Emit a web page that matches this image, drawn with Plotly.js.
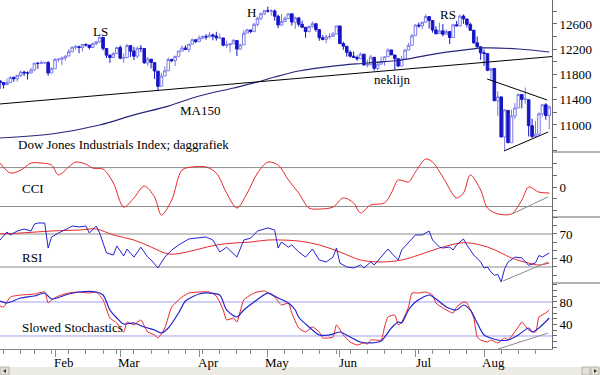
<!DOCTYPE html>
<html><head><meta charset="utf-8">
<script src="https://cdn.plot.ly/plotly-3.0.1.min.js"></script>
<style>html,body{margin:0;padding:0;background:#fff}#c{width:600px;height:375px}</style>
</head><body><div id="c"></div>
<script>
// ---- data ----
const days = [
'2011-01-07','2011-01-10','2011-01-11','2011-01-12','2011-01-13','2011-01-14','2011-01-18','2011-01-19','2011-01-20','2011-01-21','2011-01-24','2011-01-25','2011-01-26','2011-01-27','2011-01-28','2011-01-31',
'2011-02-01','2011-02-02','2011-02-03','2011-02-04','2011-02-07','2011-02-08','2011-02-09','2011-02-10','2011-02-11','2011-02-14','2011-02-15','2011-02-16','2011-02-17','2011-02-18','2011-02-22','2011-02-23','2011-02-24','2011-02-25','2011-02-28',
'2011-03-01','2011-03-02','2011-03-03','2011-03-04','2011-03-07','2011-03-08','2011-03-09','2011-03-10','2011-03-11','2011-03-14','2011-03-15','2011-03-16','2011-03-17','2011-03-18','2011-03-21','2011-03-22','2011-03-23','2011-03-24','2011-03-25','2011-03-28','2011-03-29','2011-03-30','2011-03-31',
'2011-04-01','2011-04-04','2011-04-05','2011-04-06','2011-04-07','2011-04-08','2011-04-11','2011-04-12','2011-04-13','2011-04-14','2011-04-15','2011-04-18','2011-04-19','2011-04-20','2011-04-21','2011-04-25','2011-04-26','2011-04-27','2011-04-28','2011-04-29',
'2011-05-02','2011-05-03','2011-05-04','2011-05-05','2011-05-06','2011-05-09','2011-05-10','2011-05-11','2011-05-12','2011-05-13','2011-05-16','2011-05-17','2011-05-18','2011-05-19','2011-05-20','2011-05-23','2011-05-24','2011-05-25','2011-05-26','2011-05-27','2011-05-31',
'2011-06-01','2011-06-02','2011-06-03','2011-06-06','2011-06-07','2011-06-08','2011-06-09','2011-06-10','2011-06-13','2011-06-14','2011-06-15','2011-06-16','2011-06-17','2011-06-20','2011-06-21','2011-06-22','2011-06-23','2011-06-24','2011-06-27','2011-06-28','2011-06-29','2011-06-30',
'2011-07-01','2011-07-05','2011-07-06','2011-07-07','2011-07-08','2011-07-11','2011-07-12','2011-07-13','2011-07-14','2011-07-15','2011-07-18','2011-07-19','2011-07-20','2011-07-21','2011-07-22','2011-07-25','2011-07-26','2011-07-27','2011-07-28','2011-07-29',
'2011-08-01','2011-08-02','2011-08-03','2011-08-04','2011-08-05','2011-08-08','2011-08-09','2011-08-10','2011-08-11','2011-08-12','2011-08-15','2011-08-16','2011-08-17','2011-08-18','2011-08-19','2011-08-22','2011-08-23','2011-08-24','2011-08-25','2011-08-26'];

const open = [
11697,11674,11638,11673,11754,11731,11784,11837,11824,11823,11873,11978,11976,11985,11989,11824,
11891,12040,12042,12062,12092,12162,12233,12238,12228,12273,12266,12227,12287,12318,12389,12211,12105,12069,12131,
12227,12057,12068,12258,12171,12090,12213,12212,11983,12043,11988,11853,11614,11776,11859,12036,12018,12087,12170,12220,12197,12279,12350,
12321,12376,12400,12395,12426,12409,12381,12379,12264,12270,12285,12339,12202,12268,12455,12505,12479,12594,12690,12763,
12808,12807,12807,12723,12582,12640,12686,12761,12630,12696,12594,12547,12479,12562,12604,12511,12382,12356,12394,12403,12442,
12569,12290,12247,12151,12090,12070,12048,12122,11951,11952,12072,11896,11962,12003,12080,12189,12109,12050,11935,12043,12188,12263,
12415,12582,12569,12627,12717,12655,12505,12448,12491,12437,12479,12386,12587,12570,12725,12680,12590,12501,12302,12239,
12144,12131,11866,11894,11383,11445,10810,11229,10719,11143,11269,11482,11405,11400,10989,10819,10856,11176,11320,11149];
const high = [
11712,11675,11738,11770,11767,11792,11861,11860,11850,11906,11981,11989,12020,12003,12012,11916,
12058,12057,12079,12095,12201,12244,12269,12259,12285,12295,12268,12303,12322,12391,12389,12221,12118,12155,12239,
12262,12134,12284,12259,12235,12242,12265,12212,12078,12043,11988,11853,11827,11927,12072,12051,12097,12177,12260,12264,12281,12370,12352,
12419,12420,12440,12469,12449,12476,12451,12379,12335,12288,12359,12339,12284,12505,12525,12505,12622,12716,12781,12819,
12876,12834,12830,12746,12757,12720,12771,12761,12718,12710,12652,12547,12572,12641,12604,12511,12423,12431,12459,12472,12570,
12569,12318,12247,12181,12165,12102,12147,12122,12036,12113,12072,12006,12082,12092,12214,12190,12109,12050,12093,12193,12300,12445,
12599,12623,12640,12753,12717,12655,12566,12620,12599,12518,12479,12604,12647,12751,12750,12680,12625,12501,12402,12239,
12194,12131,11905,11904,11536,11445,11244,11239,11244,11347,11500,11482,11593,11400,11099,11065,11201,11334,11347,11310];
const low = [
11572,11578,11638,11673,11684,11688,11758,11777,11720,11823,11857,11890,11962,11966,11781,11823,
11891,11995,11946,12016,12092,12152,12191,12136,12164,12243,12198,12227,12264,12300,12180,12061,11984,12069,12131,
12040,11983,12068,12079,12029,12056,12153,11969,11937,11897,11727,11555,11614,11776,11859,11995,11932,12087,12170,12197,12150,12279,12300,
12321,12356,12350,12395,12341,12338,12365,12247,12220,12147,12285,12093,12202,12268,12455,12454,12479,12560,12663,12744,
12780,12732,12652,12534,12582,12632,12686,12575,12523,12557,12537,12380,12476,12540,12477,12334,12340,12292,12364,12403,12442,
12281,12190,12083,12070,12070,12016,12048,11940,11912,11952,11862,11863,11962,11939,12080,12109,11874,11915,11930,12043,12188,12263,
12415,12540,12515,12627,12529,12463,12432,12448,12405,12437,12283,12386,12565,12567,12603,12546,12494,12284,12224,12033,
11937,11852,11700,11384,11140,10809,10604,10711,10719,11093,11269,11263,11336,10818,10794,10817,10821,11130,11083,10929];
const close = [
11675,11637,11672,11755,11732,11787,11838,11825,11823,11872,11981,11977,11985,11990,11824,11892,
12040,12042,12062,12092,12162,12233,12240,12229,12273,12268,12227,12288,12318,12391,12213,12106,12069,12130,12226,
12058,12067,12258,12170,12090,12214,12213,11985,12044,11993,11855,11613,11775,11859,12037,12019,12086,12171,12221,12198,12279,12351,12320,
12377,12400,12394,12427,12409,12380,12381,12264,12271,12285,12342,12202,12267,12454,12506,12480,12595,12691,12763,12811,
12807,12808,12724,12584,12639,12685,12760,12630,12696,12596,12548,12480,12560,12605,12512,12381,12356,12395,12403,12442,12570,
12290,12249,12151,12090,12071,12049,12124,11952,11953,12076,11897,11962,12004,12080,12190,12110,12050,11935,12044,12189,12261,12414,
12583,12570,12626,12719,12657,12506,12447,12492,12437,12480,12385,12587,12572,12724,12681,12593,12501,12303,12240,12143,
12132,11867,11896,11384,11445,10810,11240,10720,11143,11269,11483,11406,11410,10991,10818,10855,11177,11321,11150,11285];

// 150-day moving average (trading-day index)
const ma150Day = [0,15,29,39,49,58,68,75,80,87,97,107,117,126,136,141,151,160];
const ma150    = [10794,10857,11000,11160,11300,11459,11586,11681,11760,11855,11934,11982,12029,12120,12193,12220,12204,12156];
// neckline and triangle trend lines
const neckDay = [0,161];          const neck = [11333,12085];
const triUpDay = [141.9,159.4];   const triUp = [11729,11396];
const triLoDay = [146.8,159.7];   const triLo = [10588,10889];

// CCI
const cciDay = [0,3,6,9,12,15,17,20,22,25,27,30,33,36,39,42,45,47,50,53,56,60,63,66,69,72,75,78,81,84,87,90,93,97,100,103,105,108,112,114,116,119,121,124,126,129,133,135,137,140,142,145,149,152,154,157,160];
const cci = [123,72,87,123,123,113,62,103,128,118,97,92,21,-103,-56,5,-51,-144,-67,87,103,103,72,-31,-108,-31,72,128,113,36,-31,-108,-113,-103,-56,-82,-133,-92,-82,-31,36,26,77,144,128,51,-56,-31,62,-15,-108,-138,-138,-67,0,-26,-31];
const cciTrendDay = [149.2,159.6]; const cciTrend = [-138,-51];
const cciLevels = [100,-100];

// RSI and its average
const rsiDay = [0,2,3,5,7,9,10,11,13,14,15,17,20,21,23,25,26,28,29,31,33,34,36,37,39,41,43,44,46,48,50,52,55,57,60,62,64,66,69,71,73,75,78,80,81,82,84,85,87,89,91,93,95,97,98,99,101,103,105,106,108,109,111,113,114,116,117,119,121,123,125,126,128,129,131,132,133,135,136,138,140,141,142,143,144,145,146,147,148,150,152,154,156,157,158,160];
const rsi = [62.7,72.4,68.8,73.6,76,73.6,82,83.3,83.3,53,66.4,71.2,77.3,79.7,78.5,79.7,71.2,79.7,71.2,47,44.5,55.5,43.3,51.8,42,54,42,38.5,28.8,42,50.6,56.7,64,65,66.4,62.7,48.2,54,42,62.7,65,73.6,77.3,74.8,53,60.3,54,56.7,48.2,42,51.8,38.5,36.1,42,53,34.8,30,28.8,32.4,28.8,36.1,32.4,42,51.8,47,38.5,50.6,60.3,68.8,68.8,73.6,62.7,54.2,53,54.2,50.6,56.7,64,56.7,44.5,36.1,28.8,30,24,20,21,12,28,36,42,41,32,35,44,42,47];
const rsiMaDay = [0,6,15,23,28,33,39,44,49,53,58,63,68,73,78,82,87,93,99,105,111,117,122,128,134,137,142,146,149,154,157,160];
const rsiMa = [70,71.2,73.6,74.8,76,68.8,62.7,54.2,45.8,47,51.8,56.7,59,60.3,62.7,62.7,61.5,56.7,48.2,38.5,36.1,38.5,44.5,53,59,59,54.2,47,40.9,34.8,32.4,34.8];
const rsiTrendDay = [146.5,159.6]; const rsiTrend = [13,36];
const rsiLevels = [70,30];

// Slowed stochastics
const stochKDay = [0,1,3,6,10,13,14,15,17,20,23,26,28,30,32,34,36,37,39,41,43,45,46,48,50,53,55,58,61,63,65,66,68,69,71,74,77,80,82,84,85,87,89,91,93,94,97,98,100,102,104,106,107,108,111,112,113,115,116,117,119,120,122,124,126,127,129,132,133,135,136,138,139,140,142,143,145,147,148,151,152,154,156,157,159,160];
const stochK = [72.9,71,88.8,92.3,94,97.6,78.2,83.5,90.5,95.8,97.6,95.8,97.6,83.5,51.7,42.9,27,44.7,39.4,48.2,27,21.8,16.5,34.1,71.1,88.8,95.8,97.6,97.6,90.5,65.9,48.2,51.7,44.7,83.5,95.8,99.4,88.8,74.7,78.2,60.6,34.1,27,35.9,27,16.5,18.2,39.4,21.8,9.4,4.1,7.7,5.9,12.9,12.9,35.9,53.5,57,39.4,44.7,71.1,95.8,95.8,97.6,92.3,78.2,69.4,60.6,71.1,80,78.2,51.7,18.2,12.9,9.4,12.9,7.7,16.5,12.9,35.9,44.7,30.6,27,53.5,60.6,65.9];
const stochDDay = [0,2,6,10,13,15,20,23,28,30,32,34,36,39,42,45,47,49,52,54,58,61,64,66,69,71,74,78,81,84,86,87,90,93,96,99,102,105,108,111,114,116,117,119,121,125,127,130,133,135,137,139,141,145,148,151,154,155,157,160];
const stochD = [81.7,78.2,87,90.5,95.8,85.3,94.1,97.6,97.6,92.3,65.9,51.7,41.2,42.9,35.9,30.6,25.3,34.1,60.6,81.7,94.1,95.8,92.3,65.9,53.5,65.9,80,95.8,87,78.2,65.9,53,35.9,21.8,21.8,27,18.2,9.4,7.7,11.2,34.1,44.7,42.9,65.9,80,92.3,85.3,71.1,65.9,74.7,65.9,42.9,21.8,12.9,12.9,21.8,34.1,27,34.1,51.7];
const stochTrendDay = [145.1,159.6]; const stochTrend = [-3,25];
const stochLevels = [80,20];

// axis labels
const monthNames = ['Feb','Mar','Apr','May','Jun','Jul','Aug'];
const priceTicks = [10600,10800,11000,11200,11400,11600,11800,12000,12200,12400,12600,12800];
const priceLabeled = [11000,11400,11800,12200,12600];
const cciTicks = [-120,-60,0,60,120];       const cciLabeled = [0];
const rsiTicks = [20,30,40,50,60,70,80,90]; const rsiLabeled = [40,70];
const stochTicks = [0,10,20,30,40,50,60,70,80,90,100,110]; const stochLabeled = [40,80];

// ---- build ----
const dayIdx = days.map((d,i)=>i);
const monthTicks = [], weekTicks = [];
days.forEach((d,i)=>{
  if(i===0) return;
  const a = new Date(d+'T00:00:00Z'), b = new Date(days[i-1]+'T00:00:00Z');
  if(a.getUTCMonth()!==b.getUTCMonth()) monthTicks.push(i);
  if(a.getUTCDay() < b.getUTCDay()) weekTicks.push(i);
});

const W=600, H=375, PW=552, PH=349;
const px = p => p/PW, py = p => (PH-p)/PH;
const serif = 'Liberation Serif, Times New Roman, serif';
const tfont = {family:serif, size:13, color:'#000'};
const RED='#e8262a', BLUE='#2323cf', GREY='#8a8a8a';

const traces = [
 {type:'candlestick', x:dayIdx, open, high, low, close, xaxis:'x', yaxis:'y',
  increasing:{line:{color:'#7a7aea', width:1}, fillcolor:'#ffffff'},
  decreasing:{line:{color:'#1616c6', width:1}, fillcolor:'#1616c6'},
  whiskerwidth:0, hoverinfo:'skip'},
 {type:'scatter', mode:'lines', x:ma150Day, y:ma150, yaxis:'y', line:{color:'#27277f', width:1.2, shape:'spline'}},
 {type:'scatter', mode:'lines', x:neckDay, y:neck, yaxis:'y', line:{color:'#000', width:1}},
 {type:'scatter', mode:'lines', x:triUpDay, y:triUp, yaxis:'y', line:{color:'#000', width:1}},
 {type:'scatter', mode:'lines', x:triLoDay, y:triLo, yaxis:'y', line:{color:'#000', width:1}},
 {type:'scatter', mode:'lines', x:cciDay, y:cci, yaxis:'y2', line:{color:RED, width:1, shape:'spline', smoothing:0.9}},
 {type:'scatter', mode:'lines', x:cciTrendDay, y:cciTrend, yaxis:'y2', line:{color:GREY, width:1}},
 {type:'scatter', mode:'lines', x:rsiMaDay, y:rsiMa, yaxis:'y3', line:{color:RED, width:1, shape:'spline'}},
 {type:'scatter', mode:'lines', x:rsiDay, y:rsi, yaxis:'y3', line:{color:BLUE, width:1}},
 {type:'scatter', mode:'lines', x:rsiTrendDay, y:rsiTrend, yaxis:'y3', line:{color:GREY, width:1}},
 {type:'scatter', mode:'lines', x:stochKDay, y:stochK, yaxis:'y4', line:{color:RED, width:1, shape:'spline', smoothing:0.5}},
 {type:'scatter', mode:'lines', x:stochDDay, y:stochD, yaxis:'y4', line:{color:BLUE, width:1.2, shape:'spline', smoothing:0.7}},
 {type:'scatter', mode:'lines', x:stochTrendDay, y:stochTrend, yaxis:'y4', line:{color:GREY, width:1}}
];

function yax(dom, range, ticks, labeled){
  return {domain:[py(dom[1]), py(dom[0])], range, side:'right', anchor:'x',
    showgrid:false, zeroline:false, showline:true, linecolor:'#6a6a6a', linewidth:1,
    ticks:'outside', ticklen:4, tickcolor:'#6a6a6a', tickmode:'array', tickvals:ticks,
    ticktext:ticks.map(v=>labeled.includes(v)?String(v):''), tickfont:tfont, fixedrange:true};
}

const shapes = [];
function hline(yref, v, color){ shapes.push({type:'line', xref:'paper', x0:0, x1:1, yref, y0:v, y1:v, line:{color, width:1}, layer:'below'}); }
cciLevels.forEach(v=>hline('y2', v, '#8c8c8c'));
rsiLevels.forEach(v=>hline('y3', v, '#8c8c8c'));
stochLevels.forEach(v=>hline('y4', v, '#a0a0f0'));
[152,217,283].forEach(p=>shapes.push({type:'line', xref:'paper', yref:'paper', x0:1, x1:W/PW, y0:py(p), y1:py(p), line:{color:'#6a6a6a', width:1}}));
// scroll bar strip at the bottom
shapes.push({type:'rect', xref:'paper', yref:'paper', x0:0, x1:W/PW, y0:py(375), y1:py(367), fillcolor:'#ecebe3', line:{width:0}});
shapes.push({type:'rect', xref:'paper', yref:'paper', x0:px(0), x1:px(9), y0:py(375), y1:py(367), fillcolor:'#e2e0d6', line:{color:'#b5b2a6', width:1}});
shapes.push({type:'rect', xref:'paper', yref:'paper', x0:px(582), x1:px(590), y0:py(375), y1:py(367), fillcolor:'#e2e0d6', line:{color:'#b5b2a6', width:1}});
shapes.push({type:'rect', xref:'paper', yref:'paper', x0:px(591), x1:px(599), y0:py(375), y1:py(367), fillcolor:'#e2e0d6', line:{color:'#b5b2a6', width:1}});
shapes.push({type:'path', xref:'paper', yref:'paper', path:`M ${px(3)} ${py(371)} L ${px(6)} ${py(369)} L ${px(6)} ${py(373)} Z`, fillcolor:'#333', line:{width:0}});
shapes.push({type:'path', xref:'paper', yref:'paper', path:`M ${px(597)} ${py(371)} L ${px(594)} ${py(369)} L ${px(594)} ${py(373)} Z`, fillcolor:'#333', line:{width:0}});

function note(text, x, y, xanchor){ return {text, xref:'paper', yref:'paper', x:px(x), y:py(y), xanchor:xanchor||'center', yanchor:'middle', showarrow:false, font:tfont, borderpad:0}; }
const annotations = [
  note('LS', 100, 31), note('H', 252, 12), note('RS', 448, 14),
  note('MA150', 200, 110), note('neklijn', 392, 79),
  note('Dow Jones Industrials Index; daggrafiek', 17, 145, 'left'),
  note('CCI', 21, 188, 'left'), note('RSI', 21, 257, 'left'),
  note('Slowed Stochastics', 21, 327, 'left')
];
// month labels, just right of each month tick
monthTicks.forEach((t,k)=>annotations.push({text:monthNames[k], xref:'x', yref:'paper', x:t, xshift:9, y:py(362),
  xanchor:'center', yanchor:'middle', showarrow:false, font:tfont, borderpad:0}));

const layout = {
  width:W, height:H, margin:{l:0, r:48, t:0, b:26, pad:0},
  paper_bgcolor:'#fff', plot_bgcolor:'#fff', showlegend:false,
  boxgap:0.25, boxgroupgap:0, hovermode:false,
  xaxis:{range:[-0.03,160.8], anchor:'y4', rangeslider:{visible:false}, showgrid:false, zeroline:false,
    showline:true, linecolor:'#8a8a8a', linewidth:1, ticks:'outside', ticklen:7, tickcolor:'#8a8a8a',
    tickmode:'array', tickvals:monthTicks, showticklabels:false, fixedrange:true,
    minor:{tickmode:'array', tickvals:weekTicks, ticks:'outside', ticklen:4, tickcolor:'#8a8a8a', showgrid:false}},
  yaxis:  yax([0,152],   [10572,12980], priceTicks, priceLabeled),
  yaxis2: yax([152,217], [-154,180],    cciTicks, cciLabeled),
  yaxis3: yax([217,283], [10.6,90.6],   rsiTicks, rsiLabeled),
  yaxis4: yax([283,349], [-3,113.5],    stochTicks, stochLabeled),
  shapes, annotations
};
Plotly.newPlot('c', traces, layout, {staticPlot:true, displayModeBar:false});
</script></body></html>
